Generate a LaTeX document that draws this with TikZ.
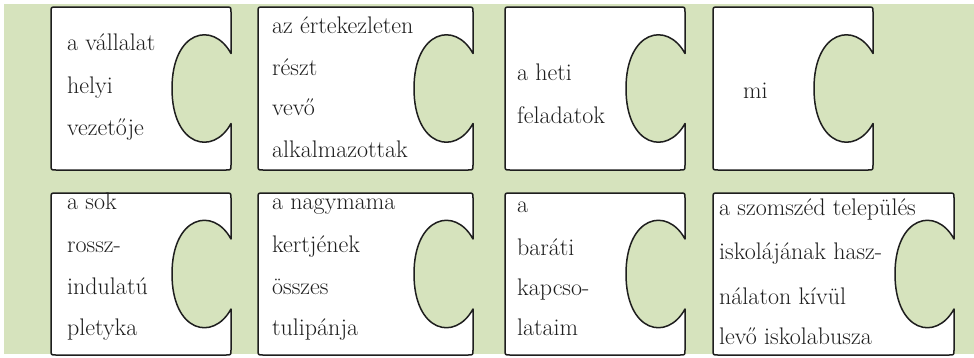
\documentclass[tikz,border=0pt]{standalone}
\usepackage{fontspec}
\definecolor{bggreen}{RGB}{214,227,189}
\definecolor{ink}{RGB}{30,30,30}
\newcommand\pzpiece[4]{%
  \pgfmathsetmacro\pzc{(#2+#4)/2}%
  \draw[piece] (#1+5,#2) -- (#3-5,#2) .. controls (#3,#2) .. (#3,#2+5)
    -- (#3,\pzc-35) .. controls (#3-18,\pzc-68) and (#3-59,\pzc-58) .. (#3-59,\pzc)
    .. controls (#3-59,\pzc+58) and (#3-18,\pzc+68) .. (#3,\pzc+35)
    -- (#3,#4-5) .. controls (#3,#4) .. (#3-5,#4)
    -- (#1+5,#4) .. controls (#1,#4) .. (#1,#4-5)
    -- (#1,#2+5) .. controls (#1,#2) .. (#1+5,#2) -- cycle;}
\begin{document}
\begin{tikzpicture}[x=1pt,y=-1pt,
  piece/.style={draw=ink,line width=1.5pt,fill=white,line join=round},
  word/.style={anchor=base west,inner sep=0pt,text=ink,font=\fontsize{24}{29}\selectfont}]
\useasboundingbox (0,0) rectangle (974,357);
\fill[bggreen] (4,4) rectangle (974,354);
% row 1
\pzpiece{51}{7}{231}{170}
\pzpiece{258}{7}{473}{170}
\pzpiece{505}{7}{685}{170}
\pzpiece{713}{7}{873}{170}
% row 2
\pzpiece{51}{193}{231}{355}
\pzpiece{258}{193}{473}{355}
\pzpiece{505}{193}{685}{355}
\pzpiece{713}{193}{954}{355}
% texts row 1
\node[word] (a1) at (67,50) {a vállalat};
\node[word] (a2) at (67,93) {helyi};
\node[word] (a3) at (67,135) {vezetője};
\node[word] (b1) at (272,33) {az értekezleten};
\node[word] (b2) at (272,75) {részt};
\node[word] (b3) at (272,115) {vevő};
\node[word] (b4) at (272,157) {alkalmazottak};
\node[word] (c1) at (517,80) {a heti};
\node[word] (c2) at (517,123) {feladatok};
\node[word] (d1) at (743,98) {mi};
% texts row 2
\node[word] (e1) at (67,209) {a sok};
\node[word] (e2) at (67,252) {rossz-};
\node[word] (e3) at (67,294) {indulatú};
\node[word] (e4) at (67,335) {pletyka};
\node[word] (f1) at (272,209) {a nagymama};
\node[word] (f2) at (272,252) {kertjének};
\node[word] (f3) at (272,294) {összes};
\node[word] (f4) at (272,335) {tulipánja};
\node[word] (g1) at (517,212) {a};
\node[word] (g2) at (517,255) {baráti};
\node[word] (g3) at (517,295) {kapcso-};
\node[word] (g4) at (517,335) {lataim};
\node[word] (h1) at (719,215) {a szomszéd település};
\node[word] (h2) at (719,259) {iskolájának hasz-};
\node[word] (h3) at (719,304) {nálaton kívül};
\node[word] (h4) at (719,344) {levő iskolabusza};
\end{tikzpicture}
\end{document}
